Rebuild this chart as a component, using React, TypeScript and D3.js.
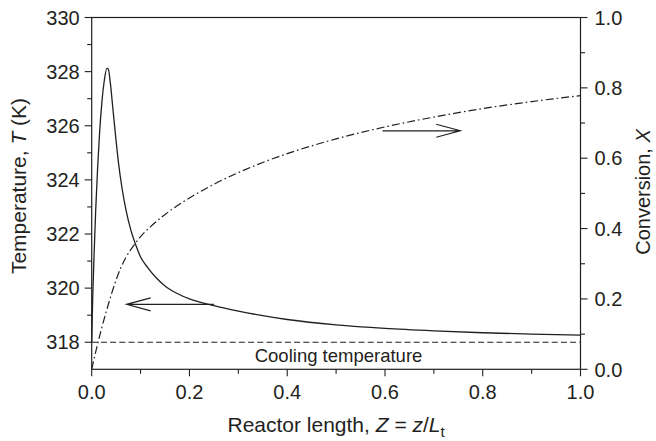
import React from "react";
import * as d3 from "d3";

// ---- data ----
const zT = [0, 0.002, 0.005, 0.008, 0.012, 0.016, 0.021, 0.026, 0.031, 0.034, 0.038, 0.043, 0.049, 0.055, 0.062, 0.07, 0.08, 0.09, 0.1, 0.115, 0.13, 0.15, 0.175, 0.2, 0.25, 0.3, 0.35, 0.4, 0.5, 0.6, 0.7, 0.8, 0.9, 1.0];
const temperature = [318, 319.6, 321.3, 322.8, 324.4, 325.7, 326.9, 327.7, 328.12, 328.1, 327.6, 326.7, 325.6, 324.6, 323.7, 322.9, 322.15, 321.6, 321.15, 320.75, 320.42, 320.08, 319.8, 319.6, 319.35, 319.15, 318.98, 318.84, 318.64, 318.51, 318.42, 318.35, 318.3, 318.26];
const zX = [0, 0.01, 0.02, 0.03, 0.04, 0.05, 0.06, 0.07, 0.085, 0.1, 0.12, 0.15, 0.2, 0.25, 0.3, 0.35, 0.4, 0.5, 0.6, 0.7, 0.8, 0.9, 1.0];
const conversion = [0, 0.06, 0.115, 0.165, 0.212, 0.254, 0.29, 0.318, 0.35, 0.377, 0.405, 0.44, 0.487, 0.526, 0.559, 0.588, 0.613, 0.655, 0.689, 0.717, 0.741, 0.761, 0.778];
const coolingTemp = 318;
const xTicks = [0, 0.2, 0.4, 0.6, 0.8, 1.0];
const xMinor = [0.1, 0.3, 0.5, 0.7, 0.9];
const tTicks = [318, 320, 322, 324, 326, 328, 330];
const tMinor = [319, 321, 323, 325, 327, 329];
const cTicks = [0, 0.2, 0.4, 0.6, 0.8, 1.0];
const cMinor = [0.1, 0.3, 0.5, 0.7, 0.9];
// arrows: [zStart, zTip, value]
const arrowT = [0.25, 0.0715, 319.4];
const arrowX = [0.595, 0.754, 0.678];

const W = 656, H = 441;
const L = 91.7, R = 580.5, T = 17.5, B = 369.3;
const FONT = "'Liberation Sans', Arial, Helvetica, sans-serif";
const INK = "#231f20";

export default function App() {
  const x = d3.scaleLinear().domain([0, 1]).range([L, R]);
  const yT = d3.scaleLinear().domain([317, 330]).range([B, T]);
  const yX = d3.scaleLinear().domain([0, 1]).range([B, T]);

  const tLine = d3.line<number>().x((_, i) => x(zT[i])).y((d) => yT(d)).curve(d3.curveMonotoneX);
  const xLine = d3.line<number>().x((_, i) => x(zX[i])).y((d) => yX(d)).curve(d3.curveMonotoneX);

  const arrowPath = (x0: number, x1: number, y: number) => {
    const dir = x1 > x0 ? -1 : 1;
    const bx = x1 + dir * 24;
    return `M${x0},${y}L${x1},${y}M${bx},${y - 6.5}L${x1},${y}L${bx},${y + 6.5}`;
  };

  const maj = 7, min = 4.5;
  const tickStyle = { stroke: INK, strokeWidth: 1.1 };
  const fs = 20;

  return (
    <svg width={W} height={H} style={{ position: "absolute", left: 0, top: 0, background: "#fff" }} fontFamily={FONT}>
      <rect x={0} y={0} width={W} height={H} fill="#fff" />
      {/* frame */}
      <rect x={L} y={T} width={R - L} height={B - T} fill="none" stroke={INK} strokeWidth={1.2} />
      {/* left axis */}
      {tTicks.map((t) => (
        <g key={"t" + t}>
          <line x1={L - maj} x2={L} y1={yT(t)} y2={yT(t)} {...tickStyle} />
          <text x={L - 12} y={yT(t)} dy="0.36em" textAnchor="end" fontSize={fs} fill={INK}>{t}</text>
        </g>
      ))}
      {tMinor.map((t) => (
        <line key={"tm" + t} x1={L - min} x2={L} y1={yT(t)} y2={yT(t)} {...tickStyle} />
      ))}
      {/* right axis */}
      {cTicks.map((c) => (
        <g key={"c" + c}>
          <line x1={R} x2={R + maj} y1={yX(c)} y2={yX(c)} {...tickStyle} />
          <text x={R + 14} y={yX(c)} dy="0.36em" textAnchor="start" fontSize={fs} fill={INK}>{c.toFixed(1)}</text>
        </g>
      ))}
      {cMinor.map((c) => (
        <line key={"cm" + c} x1={R} x2={R + min} y1={yX(c)} y2={yX(c)} {...tickStyle} />
      ))}
      {/* bottom axis */}
      {xTicks.map((v) => (
        <g key={"x" + v}>
          <line x1={x(v)} x2={x(v)} y1={B} y2={B + maj} {...tickStyle} />
          <text x={x(v)} y={B + 30} textAnchor="middle" fontSize={fs} fill={INK}>{v.toFixed(1)}</text>
        </g>
      ))}
      {xMinor.map((v) => (
        <line key={"xm" + v} x1={x(v)} x2={x(v)} y1={B} y2={B + min} {...tickStyle} />
      ))}
      {/* cooling temperature */}
      <line x1={x(0)} x2={x(1)} y1={yT(coolingTemp)} y2={yT(coolingTemp)} stroke={INK} strokeWidth={1.2} strokeDasharray="6,3.2" />
      <text x={x(0.505)} y={yT(coolingTemp) + 19.5} textAnchor="middle" fontSize={18.5} fill={INK}>Cooling temperature</text>
      {/* curves */}
      <path d={tLine(temperature) || ""} fill="none" stroke={INK} strokeWidth={1.3} />
      <path d={xLine(conversion) || ""} fill="none" stroke={INK} strokeWidth={1.2} strokeDasharray="8,3,1.6,3" />
      {/* arrows */}
      <path d={arrowPath(x(arrowT[0]), x(arrowT[1]), yT(arrowT[2]))} fill="none" stroke={INK} strokeWidth={1.2} />
      <path d={arrowPath(x(arrowX[0]), x(arrowX[1]), yX(arrowX[2]))} fill="none" stroke={INK} strokeWidth={1.2} />
      {/* titles */}
      <text x={(L + R) / 2} y={432} textAnchor="middle" fontSize={21} fill={INK}>
        Reactor length, <tspan fontStyle="italic">Z</tspan> = <tspan fontStyle="italic">z</tspan>/<tspan fontStyle="italic">L</tspan><tspan fontSize={15} dy={5}>t</tspan>
      </text>
      <text transform={`translate(26,186) rotate(-90)`} textAnchor="middle" fontSize={21} fill={INK}>
        Temperature, <tspan fontStyle="italic">T</tspan> (K)
      </text>
      <text transform={`translate(650,192) rotate(-90)`} textAnchor="middle" fontSize={20} fill={INK}>
        Conversion, <tspan fontStyle="italic">X</tspan>
      </text>
    </svg>
  );
}
